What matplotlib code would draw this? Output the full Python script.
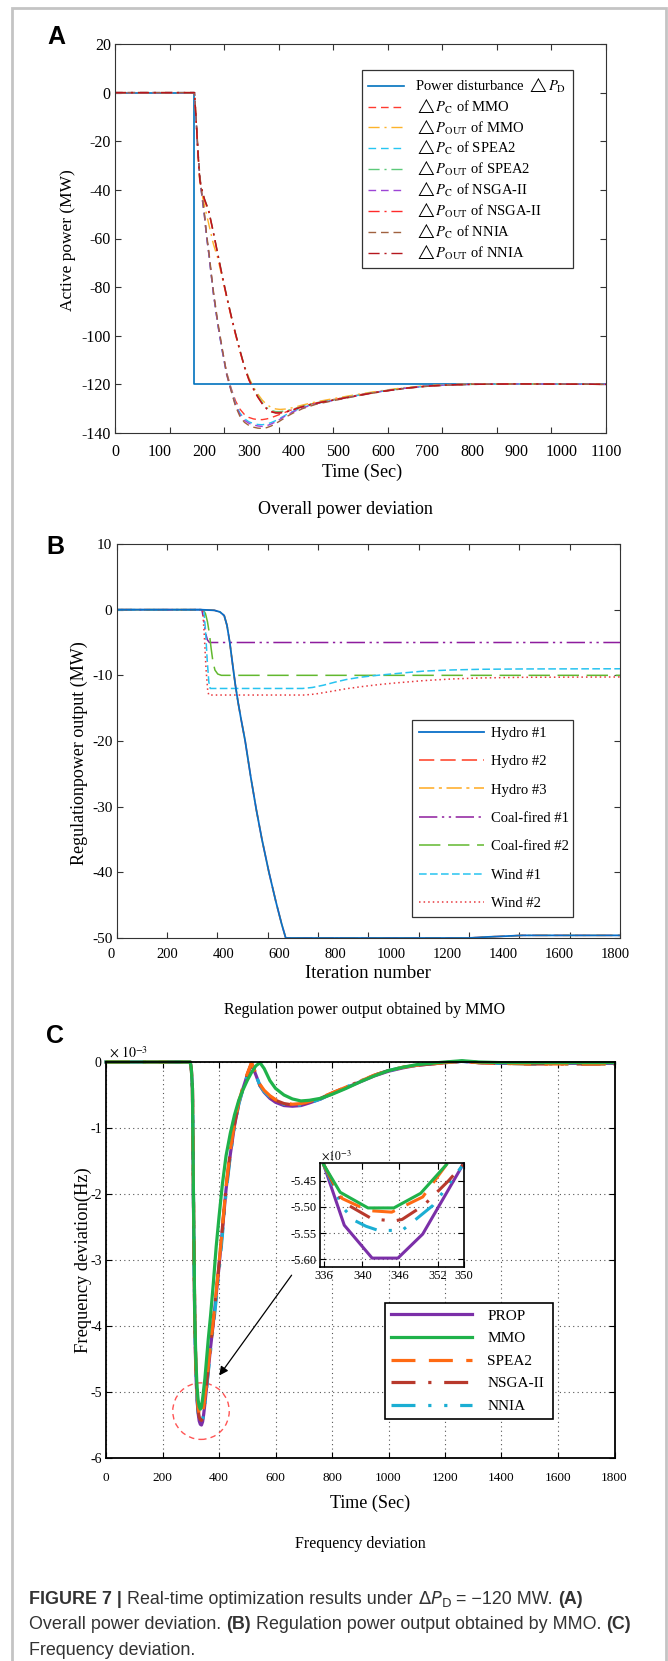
import numpy as np
import matplotlib
matplotlib.use('Agg')
import matplotlib.pyplot as plt
import matplotlib.transforms as mtransforms
from matplotlib.patches import Ellipse, Rectangle

plt.rcParams['font.family'] = 'Liberation Serif'
plt.rcParams['mathtext.fontset'] = 'stix'
plt.rcParams['axes.unicode_minus'] = False

# ---------------- panel A: overall power deviation (MW) ----------------
dist_t = [0, 178, 178, 1100]
dist_mw = [0, 0, -120, -120]

tA = [0, 178, 182, 186, 190, 195, 200, 205, 210, 220, 230, 240, 250, 260, 270, 280, 290, 300, 310, 320,
      330, 340, 350, 360, 370, 385, 400, 420, 450, 500, 550, 600, 650, 700, 750, 800, 900, 1000, 1100]
pc_mmo = [0, 0, -12, -25, -35, -43, -50, -59, -66, -82, -95, -105.5, -115, -121.5, -126.8, -130.2, -132.4, -133.6, -134.2, -134.5,
          -134.5, -134.2, -133.7, -133, -132.3, -131.2, -130.2, -129, -127.6, -125.9, -124.2, -122.7, -121.5, -120.6, -120.1, -119.9, -119.8, -119.9, -120]
pout_mmo = [0, 0, -12, -26, -37, -42, -46, -50, -54, -62, -68, -76, -84, -92, -99.5, -106.5, -112.5, -117.3, -121, -124,
            -126.5, -128.3, -129.5, -130.1, -130.3, -130.1, -129.5, -128.5, -127.2, -125.5, -123.9, -122.5, -121.3, -120.5, -120.1, -119.9, -119.8, -119.9, -120]
pc_spea = [0, 0, -12, -25, -35, -43, -50, -59, -66, -82, -95, -106, -115.5, -122, -128, -131.8, -134.1, -135.4, -136.1, -136.5,
           -136.6, -136.3, -135.7, -134.9, -133.9, -132.3, -131, -129.5, -127.9, -126.1, -124.3, -122.8, -121.6, -120.7, -120.2, -120, -119.8, -119.9, -120]
pout_spea = [0, 0, -12, -25, -36, -40, -43.5, -46, -48.5, -57, -66, -75, -83.5, -91.5, -99, -106, -112.5, -117.8, -121.5, -124.8,
             -127.5, -129.6, -130.7, -131.2, -131.2, -130.8, -130.1, -129, -127.6, -125.9, -124.2, -122.7, -121.5, -120.6, -120.2, -120, -119.8, -119.9, -120]
pc_nsga = [0, 0, -12, -25, -35, -43, -50, -59, -66, -82, -95, -106, -116, -122.5, -128.5, -132.5, -134.8, -136, -136.7, -137.1,
           -137.3, -137, -136.3, -135.4, -134.3, -132.6, -131.2, -129.7, -128, -126.2, -124.4, -122.8, -121.6, -120.7, -120.2, -120, -119.8, -119.9, -120]
pout_nsga = [0, 0, -12, -25, -36, -40.5, -44, -46.5, -49, -57.5, -66.5, -75.5, -84, -92, -99.5, -106.5, -113, -118.3, -122, -125.3,
             -128, -130, -131.1, -131.6, -131.6, -131.1, -130.3, -129.1, -127.7, -126, -124.3, -122.8, -121.6, -120.7, -120.2, -120, -119.8, -119.9, -120]
pc_nnia = [0, 0, -11, -24, -34, -42, -49, -58, -65, -81, -94, -105, -115.5, -122.5, -129, -133.2, -135.6, -136.9, -137.6, -138,
           -138.1, -137.8, -137.1, -136.1, -135, -133.2, -131.7, -130, -128.2, -126.3, -124.5, -122.9, -121.7, -120.8, -120.3, -120, -119.8, -119.9, -120]
pout_nnia = [0, 0, -12, -25, -36, -40, -43.5, -46, -48.5, -57, -66, -75, -83.5, -91.5, -99, -106, -112.8, -118, -121.8, -125.2,
             -128, -130.1, -131.3, -131.8, -131.8, -131.3, -130.4, -129.2, -127.8, -126.1, -124.4, -122.9, -121.6, -120.7, -120.2, -120, -119.8, -119.9, -120]

# ---------------- panel B: regulation power output by MMO (MW) ----------------
hydro1_t = [0, 300, 350, 370, 385, 395, 405, 415, 425, 435, 445, 460, 480, 500, 520, 545, 570, 590, 605, 1260, 1320, 1400, 1450, 1800]
hydro1_mw = [0, 0, -0.1, -0.35, -0.9, -2.4, -5, -8.3, -11.5, -14.2, -16.6, -20, -25.5, -30.5, -35, -40, -44.5, -47.8, -50, -50, -49.85, -49.7, -49.6, -49.6]
coal1_t = [0, 305, 312, 318, 325, 332, 1800]
coal1_mw = [0, 0, -1.5, -3.5, -4.6, -5, -5]
coal2_t = [0, 310, 318, 325, 332, 338, 345, 352, 362, 375, 1800]
coal2_mw = [0, 0, -0.6, -1.8, -3.6, -5.8, -8, -9.2, -9.8, -10, -10]
wind1_t = [0, 312, 318, 324, 330, 335, 665, 700, 740, 780, 820, 870, 920, 970, 1020, 1100, 1200, 1300, 1450, 1800]
wind1_mw = [0, 0, -3, -7.5, -11, -12, -12, -11.85, -11.5, -11.05, -10.65, -10.3, -10.05, -9.85, -9.65, -9.35, -9.18, -9.08, -9.03, -9.0]
wind2_t = [0, 308, 314, 320, 326, 330, 672, 710, 760, 820, 880, 940, 1000, 1100, 1200, 1300, 1450, 1800]
wind2_mw = [0, 0, -4, -9, -12.3, -13, -13, -12.85, -12.5, -12.05, -11.7, -11.4, -11.15, -10.8, -10.55, -10.4, -10.3, -10.25]

# ---------------- panel C: frequency deviation (x 1e-3 Hz) ----------------
tC = [0, 298, 302, 306, 310, 314, 318, 322, 326, 330, 334, 338, 342, 346, 350, 356, 362, 370, 380, 390,
      400, 412, 425, 440, 455, 470, 485, 500, 515, 530, 545, 560, 580, 600, 630, 660, 690, 720, 760, 800,
      850, 900, 950, 1000, 1050, 1100, 1150, 1200, 1260, 1320, 1400, 1500, 1600, 1700, 1800]
f_prop = [0, 0, -0.1, -0.4, -2.3, -3.9, -4.7, -5.1, -5.32, -5.44, -5.49, -5.5, -5.45, -5.33, -5.18, -4.93, -4.67, -4.33, -3.95, -3.53,
          -3.1, -2.55, -1.93, -1.4, -0.96, -0.63, -0.4, -0.2, -0.03, -0.19, -0.36, -0.46, -0.55, -0.61, -0.66, -0.67, -0.66, -0.62, -0.56, -0.48,
          -0.39, -0.3, -0.21, -0.14, -0.09, -0.05, -0.03, -0.01, 0.01, -0.01, -0.02, -0.02, -0.02, -0.02, -0.02]
f_mmo = [0, 0, -0.1, -0.4, -2.2, -3.8, -4.5, -4.9, -5.12, -5.22, -5.26, -5.22, -5.1, -4.95, -4.8, -4.5, -4.2, -3.85, -3.35, -2.8,
         -2.35, -1.85, -1.42, -1.08, -0.8, -0.58, -0.42, -0.28, -0.16, -0.06, -0.01, -0.1, -0.28, -0.4, -0.5, -0.56, -0.59, -0.58, -0.55, -0.49,
         -0.4, -0.3, -0.21, -0.13, -0.08, -0.04, -0.02, 0.0, 0.02, 0.0, -0.01, -0.01, -0.01, -0.01, -0.01]
f_spea = [0, 0, -0.1, -0.4, -2.2, -3.8, -4.6, -5.0, -5.22, -5.33, -5.37, -5.38, -5.33, -5.22, -5.08, -4.85, -4.6, -4.28, -3.9, -3.48,
          -3.05, -2.5, -1.88, -1.33, -0.93, -0.6, -0.38, -0.18, -0.01, -0.17, -0.34, -0.43, -0.51, -0.57, -0.62, -0.64, -0.63, -0.6, -0.54, -0.47,
          -0.38, -0.29, -0.2, -0.13, -0.08, -0.05, -0.03, -0.01, 0.01, -0.01, -0.02, -0.03, -0.03, -0.03, -0.03]
f_nsga = [0, 0, -0.1, -0.4, -2.25, -3.85, -4.65, -5.05, -5.27, -5.38, -5.42, -5.43, -5.38, -5.27, -5.12, -4.88, -4.63, -4.3, -3.92, -3.5,
          -3.07, -2.52, -1.9, -1.36, -0.94, -0.61, -0.39, -0.19, -0.02, -0.18, -0.35, -0.44, -0.52, -0.58, -0.63, -0.65, -0.64, -0.61, -0.55, -0.47,
          -0.38, -0.29, -0.2, -0.13, -0.08, -0.05, -0.03, -0.01, 0.01, -0.01, -0.02, -0.03, -0.03, -0.03, -0.03]
f_nnia = [0, 0, -0.1, -0.4, -2.25, -3.85, -4.68, -5.08, -5.3, -5.41, -5.45, -5.46, -5.42, -5.32, -5.18, -4.95, -4.7, -4.38, -4.0, -3.6,
          -3.18, -2.62, -1.98, -1.42, -0.98, -0.64, -0.41, -0.21, -0.03, -0.19, -0.36, -0.45, -0.53, -0.59, -0.64, -0.66, -0.65, -0.62, -0.56, -0.48,
          -0.38, -0.29, -0.2, -0.13, -0.08, -0.05, -0.03, -0.01, 0.01, -0.01, -0.02, -0.03, -0.03, -0.03, -0.03]

# zoomed inset around the minimum
zoom_prop_t = [336.4, 338.4, 341.1, 343.6, 346.0, 349.9]
zoom_prop = [-5.419, -5.535, -5.598, -5.598, -5.552, -5.419]
zoom_mmo_t = [336.4, 338.0, 340.7, 343.2, 345.8, 348.3]
zoom_mmo = [-5.419, -5.472, -5.502, -5.502, -5.474, -5.419]
zoom_spea_t = [336.4, 338.2, 340.7, 343.0, 346.0, 348.3]
zoom_spea = [-5.419, -5.484, -5.507, -5.510, -5.481, -5.419]
zoom_nsga_t = [336.4, 338.2, 341.1, 343.2, 344.0, 346.1, 348.5, 349.9]
zoom_nsga = [-5.419, -5.490, -5.523, -5.527, -5.524, -5.497, -5.450, -5.419]
zoom_nnia_t = [336.4, 338.2, 339.4, 340.5, 341.7, 344.0, 345.2, 347.0, 348.6, 349.9]
zoom_nnia = [-5.419, -5.500, -5.526, -5.537, -5.545, -5.545, -5.526, -5.497, -5.455, -5.419]
zoom_xtick_labels = ['336', '340', '346', '352', '350']

W, H = 668, 1661
fig = plt.figure(figsize=(W / 100, H / 100), dpi=100)


def box(l, t, r, b):
    return [l / W, 1 - b / H, (r - l) / W, (b - t) / H]


def at(x, y):
    return x / W, 1 - y / H


def style_axes(ax, lw=0.8, color='#333333'):
    for s in ax.spines.values():
        s.set_linewidth(lw)
        s.set_color(color)
    ax.tick_params(which='major', direction='in', top=True, right=True, length=4, width=0.8, color=color)


def odd_xticks(ax, lo, hi, n_int, label_vals, size, pad):
    # ticks and labels of the original are not aligned
    ax.xaxis.remove_overlapping_locs = False
    ax.set_xticks(np.linspace(lo, hi, n_int + 1))
    ax.set_xticklabels([])
    ax.set_xticks(label_vals, minor=True)
    ax.set_xticklabels([str(v) for v in label_vals], minor=True)
    ax.tick_params(axis='x', which='minor', length=0, labelsize=size, pad=pad, top=False, bottom=False)


# frame around everything
fig.patches.append(Rectangle((12 / W, -0.01), (666 - 12) / W, 1.01 - 8 / H, transform=fig.transFigure,
                             fill=False, edgecolor='#c4c4c4', lw=2))

# ---------------- A ----------------
axA = fig.add_axes(box(115, 44, 606, 433))
style_axes(axA)
dash = (0, (5.5, 3.5))
dashdot = (0, (8, 3.5, 1.5, 3.5))
lA = []
lA += axA.plot(dist_t, dist_mw, color='#0072BD', lw=1.2, label=r'Power disturbance $\triangle P_{\mathrm{D}}$')
lA += axA.plot(tA, pc_mmo, color='#FF3B30', lw=1.0, ls=dash, label=r'$\triangle P_{\mathrm{C}}$ of MMO')
lA += axA.plot(tA, pout_mmo, color='#FDB32B', lw=1.0, ls=dashdot, label=r'$\triangle P_{\mathrm{OUT}}$ of MMO')
lA += axA.plot(tA, pc_spea, color='#26C6F2', lw=1.0, ls=dash, label=r'$\triangle P_{\mathrm{C}}$ of SPEA2')
lA += axA.plot(tA, pout_spea, color='#5CC97A', lw=1.0, ls=dashdot, label=r'$\triangle P_{\mathrm{OUT}}$ of SPEA2')
lA += axA.plot(tA, pc_nsga, color='#9D45D6', lw=1.0, ls=dash, label=r'$\triangle P_{\mathrm{C}}$ of NSGA-II')
lA += axA.plot(tA, pout_nsga, color='#FF2A2A', lw=1.0, ls=dashdot, label=r'$\triangle P_{\mathrm{OUT}}$ of NSGA-II')
lA += axA.plot(tA, pc_nnia, color='#A0613F', lw=1.0, ls=dash, label=r'$\triangle P_{\mathrm{C}}$ of NNIA')
lA += axA.plot(tA, pout_nnia, color='#B5171E', lw=1.0, ls=dashdot, label=r'$\triangle P_{\mathrm{OUT}}$ of NNIA')
axA.set_xlim(0, 1100)
axA.set_ylim(-140, 20)
odd_xticks(axA, 0, 1100, 9, list(range(0, 1101, 100)), 11.5, 8)
axA.set_yticks(range(-140, 21, 20))
axA.tick_params(axis='y', labelsize=11.5, pad=3)
legA = axA.legend(handles=lA, loc='upper left', bbox_to_anchor=(0.503, 0.4332, 0.4297, 0.5), mode='expand',
                  borderaxespad=0, fancybox=False, edgecolor='#333333', framealpha=1, fontsize=10.5,
                  handlelength=2.5, handletextpad=0.75, labelspacing=0.12, borderpad=0.4)
legA.get_frame().set_linewidth(0.9)

fig.text(*at(56, 37), 'A', family='Liberation Sans', weight='bold', fontsize=18, ha='center', va='center')
fig.text(*at(68, 240), 'Active power (MW)', rotation=90, ha='center', va='center', fontsize=12.5)
fig.text(*at(362, 472), 'Time (Sec)', ha='center', va='center', fontsize=13)
fig.text(*at(345, 509), 'Overall power deviation', ha='center', va='center', fontsize=13)

# ---------------- B ----------------
axB = fig.add_axes(box(116.5, 544, 620, 938))
style_axes(axB)
lB = []
lB += axB.plot(hydro1_t, hydro1_mw, color='#FF3B1F', lw=1.1, ls=(0, (10, 4)), label='Hydro #2')
lB += axB.plot(hydro1_t, hydro1_mw, color='#FFA91F', lw=1.1, ls=(0, (10, 3, 2, 3)), label='Hydro #3')
lB += axB.plot(coal1_t, coal1_mw, color='#8E1C9E', lw=1.1, ls=(0, (12, 3, 1.5, 3, 1.5, 3)), label='Coal-fired #1')
lB += axB.plot(coal2_t, coal2_mw, color='#62B82F', lw=1.1, ls=(0, (14, 5)), label='Coal-fired #2')
lB += axB.plot(wind1_t, wind1_mw, color='#27C3F0', lw=1.1, ls=(0, (5, 2.2)), label='Wind #1')
lB += axB.plot(wind2_t, wind2_mw, color='#E8383D', lw=1.1, ls=(0, (1, 2)), label='Wind #2')
lB = axB.plot(hydro1_t, hydro1_mw, color='#0A6FC8', lw=1.3, label='Hydro #1') + lB
axB.set_xlim(0, 1800)
axB.set_ylim(-50, 10)
odd_xticks(axB, 0, 1800, 10, list(range(0, 1801, 200)), 10.5, 7)
shift = mtransforms.ScaledTranslation(-0.05, 0, fig.dpi_scale_trans)
for lbl in axB.get_xticklabels(minor=True):
    lbl.set_transform(lbl.get_transform() + shift)
axB.set_yticks(range(-50, 11, 10))
axB.tick_params(axis='y', labelsize=11, pad=3)
legB = axB.legend(handles=lB, loc='upper left', bbox_to_anchor=(0.5869, 0.0533, 0.3198, 0.5), mode='expand',
                  borderaxespad=0, fancybox=False, edgecolor='#333333', framealpha=1, fontsize=10.5,
                  handlelength=4.5, handletextpad=0.45, labelspacing=1.04, borderpad=0.45)
legB.get_frame().set_linewidth(0.9)

fig.text(*at(55, 547), 'B', family='Liberation Sans', weight='bold', fontsize=18, ha='center', va='center')
fig.text(*at(79, 753), 'Regulationpower output (MW)', rotation=90, ha='center', va='center', fontsize=13)
fig.text(*at(368, 973), 'Iteration number', ha='center', va='center', fontsize=13.5)
fig.text(*at(365, 1010), 'Regulation power output obtained by MMO', ha='center', va='center', fontsize=11.5)

# ---------------- C ----------------
axC = fig.add_axes(box(106, 1062, 614.5, 1458))
style_axes(axC, lw=1.3, color='black')
axC.set_axisbelow(True)
axC.grid(True, ls=(0, (1, 3)), color='#555555', lw=0.8)
s_solid = '-'
s_spea = (0, (7.5, 4.2))
s_nsga = (0, (7.5, 4, 1, 4))
s_nnia = (0, (7.5, 4, 1, 4, 1, 4))
c_prop, c_mmo, c_spea, c_nsga, c_nnia = '#7B2FA8', '#1FB24A', '#FF6A13', '#B8392C', '#1BAED3'
lwC = 2.3
h_prop, = axC.plot(tC, f_prop, color=c_prop, lw=lwC, ls=s_solid, clip_on=False, label='PROP')
h_nnia, = axC.plot(tC, f_nnia, color=c_nnia, lw=lwC, ls=s_nnia, clip_on=False, label='NNIA')
h_nsga, = axC.plot(tC, f_nsga, color=c_nsga, lw=lwC, ls=s_nsga, clip_on=False, label='NSGA-II')
h_spea, = axC.plot(tC, f_spea, color=c_spea, lw=lwC, ls=s_spea, clip_on=False, label='SPEA2')
h_mmo, = axC.plot(tC, f_mmo, color=c_mmo, lw=lwC, ls=s_solid, clip_on=False, label='MMO')
axC.set_xlim(0, 1800)
axC.set_ylim(-6, 0)
axC.set_xticks(range(0, 1801, 200))
axC.set_yticks(range(-6, 1))
axC.tick_params(axis='x', labelsize=9.5, pad=10)
axC.tick_params(axis='y', labelsize=10, pad=3)
legC = axC.legend(handles=[h_prop, h_mmo, h_spea, h_nsga, h_nnia], loc='upper left',
                  bbox_to_anchor=(0.5487, -0.1086, 0.3304, 0.5), mode='expand',
                  borderaxespad=0, fancybox=False, edgecolor='black', framealpha=1, fontsize=11,
                  handlelength=5.3, handletextpad=1.0, labelspacing=0.58, borderpad=0.4)
legC.get_frame().set_linewidth(1.2)
axC.add_patch(Ellipse((336.3, -5.29), 200, 0.857, fill=False, ec='#FF5555', ls=(0, (4, 3)), lw=1.0, clip_on=False))
axC.annotate('', xy=(401, -4.75), xytext=(657, -3.23),
             arrowprops=dict(arrowstyle='-|>', color='black', lw=0.9, mutation_scale=13, shrinkA=0, shrinkB=0))
fig.text(*at(109, 1058), r'$\times\ 10^{-3}$', fontsize=10, va='baseline')

axI = fig.add_axes(box(319.5, 1163, 464, 1267))
style_axes(axI, lw=1.2, color='black')
axI.set_axisbelow(True)
axI.grid(True, ls=(0, (1, 3)), color='#555555', lw=0.8)
axI.plot(zoom_prop_t, zoom_prop, color=c_prop, lw=2.2, ls=s_solid)
axI.plot(zoom_nnia_t, zoom_nnia, color=c_nnia, lw=2.2, ls=s_nnia)
axI.plot(zoom_nsga_t, zoom_nsga, color=c_nsga, lw=2.2, ls=s_nsga)
axI.plot(zoom_spea_t, zoom_spea, color=c_spea, lw=2.2, ls=s_spea)
axI.plot(zoom_mmo_t, zoom_mmo, color=c_mmo, lw=2.2, ls=s_solid)
axI.set_xlim(336, 350)
axI.set_ylim(-5.615, -5.416)
axI.set_xticks([336.4, 340.15, 343.75, 347.45, 350.0])
axI.set_xticklabels(zoom_xtick_labels)
axI.set_yticks([-5.45, -5.50, -5.55, -5.60])
axI.set_yticklabels(['-5.45', '-5.50', '-5.55', '-5.60'])
axI.tick_params(labelsize=9, pad=2)
fig.text(*at(321, 1160), r'$\times 10^{-3}$', fontsize=8.5, va='baseline')

fig.text(*at(55, 1036), 'C', family='Liberation Sans', weight='bold', fontsize=18, ha='center', va='center')
fig.text(*at(83.5, 1260), 'Frequency deviation(Hz)', rotation=90, ha='center', va='center', fontsize=13.3)
fig.text(*at(370, 1503), 'Time (Sec)', ha='center', va='center', fontsize=13)
fig.text(*at(360, 1544), 'Frequency deviation', ha='center', va='center', fontsize=11.5)

# ---------------- figure caption ----------------
renderer = fig.canvas.get_renderer()
cap_size = 12.9


def text_w(s, bold):
    t = fig.text(0, 0, s, fontsize=cap_size, family='Liberation Sans', weight='bold' if bold else 'normal',
                 math_fontfamily='dejavusans')
    w = t.get_window_extent(renderer).width
    t.remove()
    return w


space_w = text_w('a a', False) - text_w('aa', False)


def rich_line(x, y, pieces):
    for s, bold in pieces:
        lead = len(s) - len(s.lstrip(' '))
        trail = len(s) - len(s.rstrip(' '))
        core = s.strip(' ')
        x += lead * space_w
        t = fig.text(x / W, 1 - y / H, core, fontsize=cap_size, family='Liberation Sans',
                     weight='bold' if bold else 'normal', color='#333333', va='baseline',
                     math_fontfamily='dejavusans')
        x = t.get_window_extent(renderer).x1 + trail * space_w


rich_line(29, 1604, [('FIGURE 7 | ', True), ('Real-time optimization results under ', False),
                     (r'$\Delta P_{\mathrm{D}}$', False), (' = \u2212120 MW. ', False), ('(A)', True)])
rich_line(29, 1629, [('Overall power deviation. ', False), ('(B)', True),
                     (' Regulation power output obtained by MMO. ', False), ('(C)', True)])
rich_line(29, 1655, [('Frequency deviation.', False)])

fig.savefig('out.png', dpi=100)
